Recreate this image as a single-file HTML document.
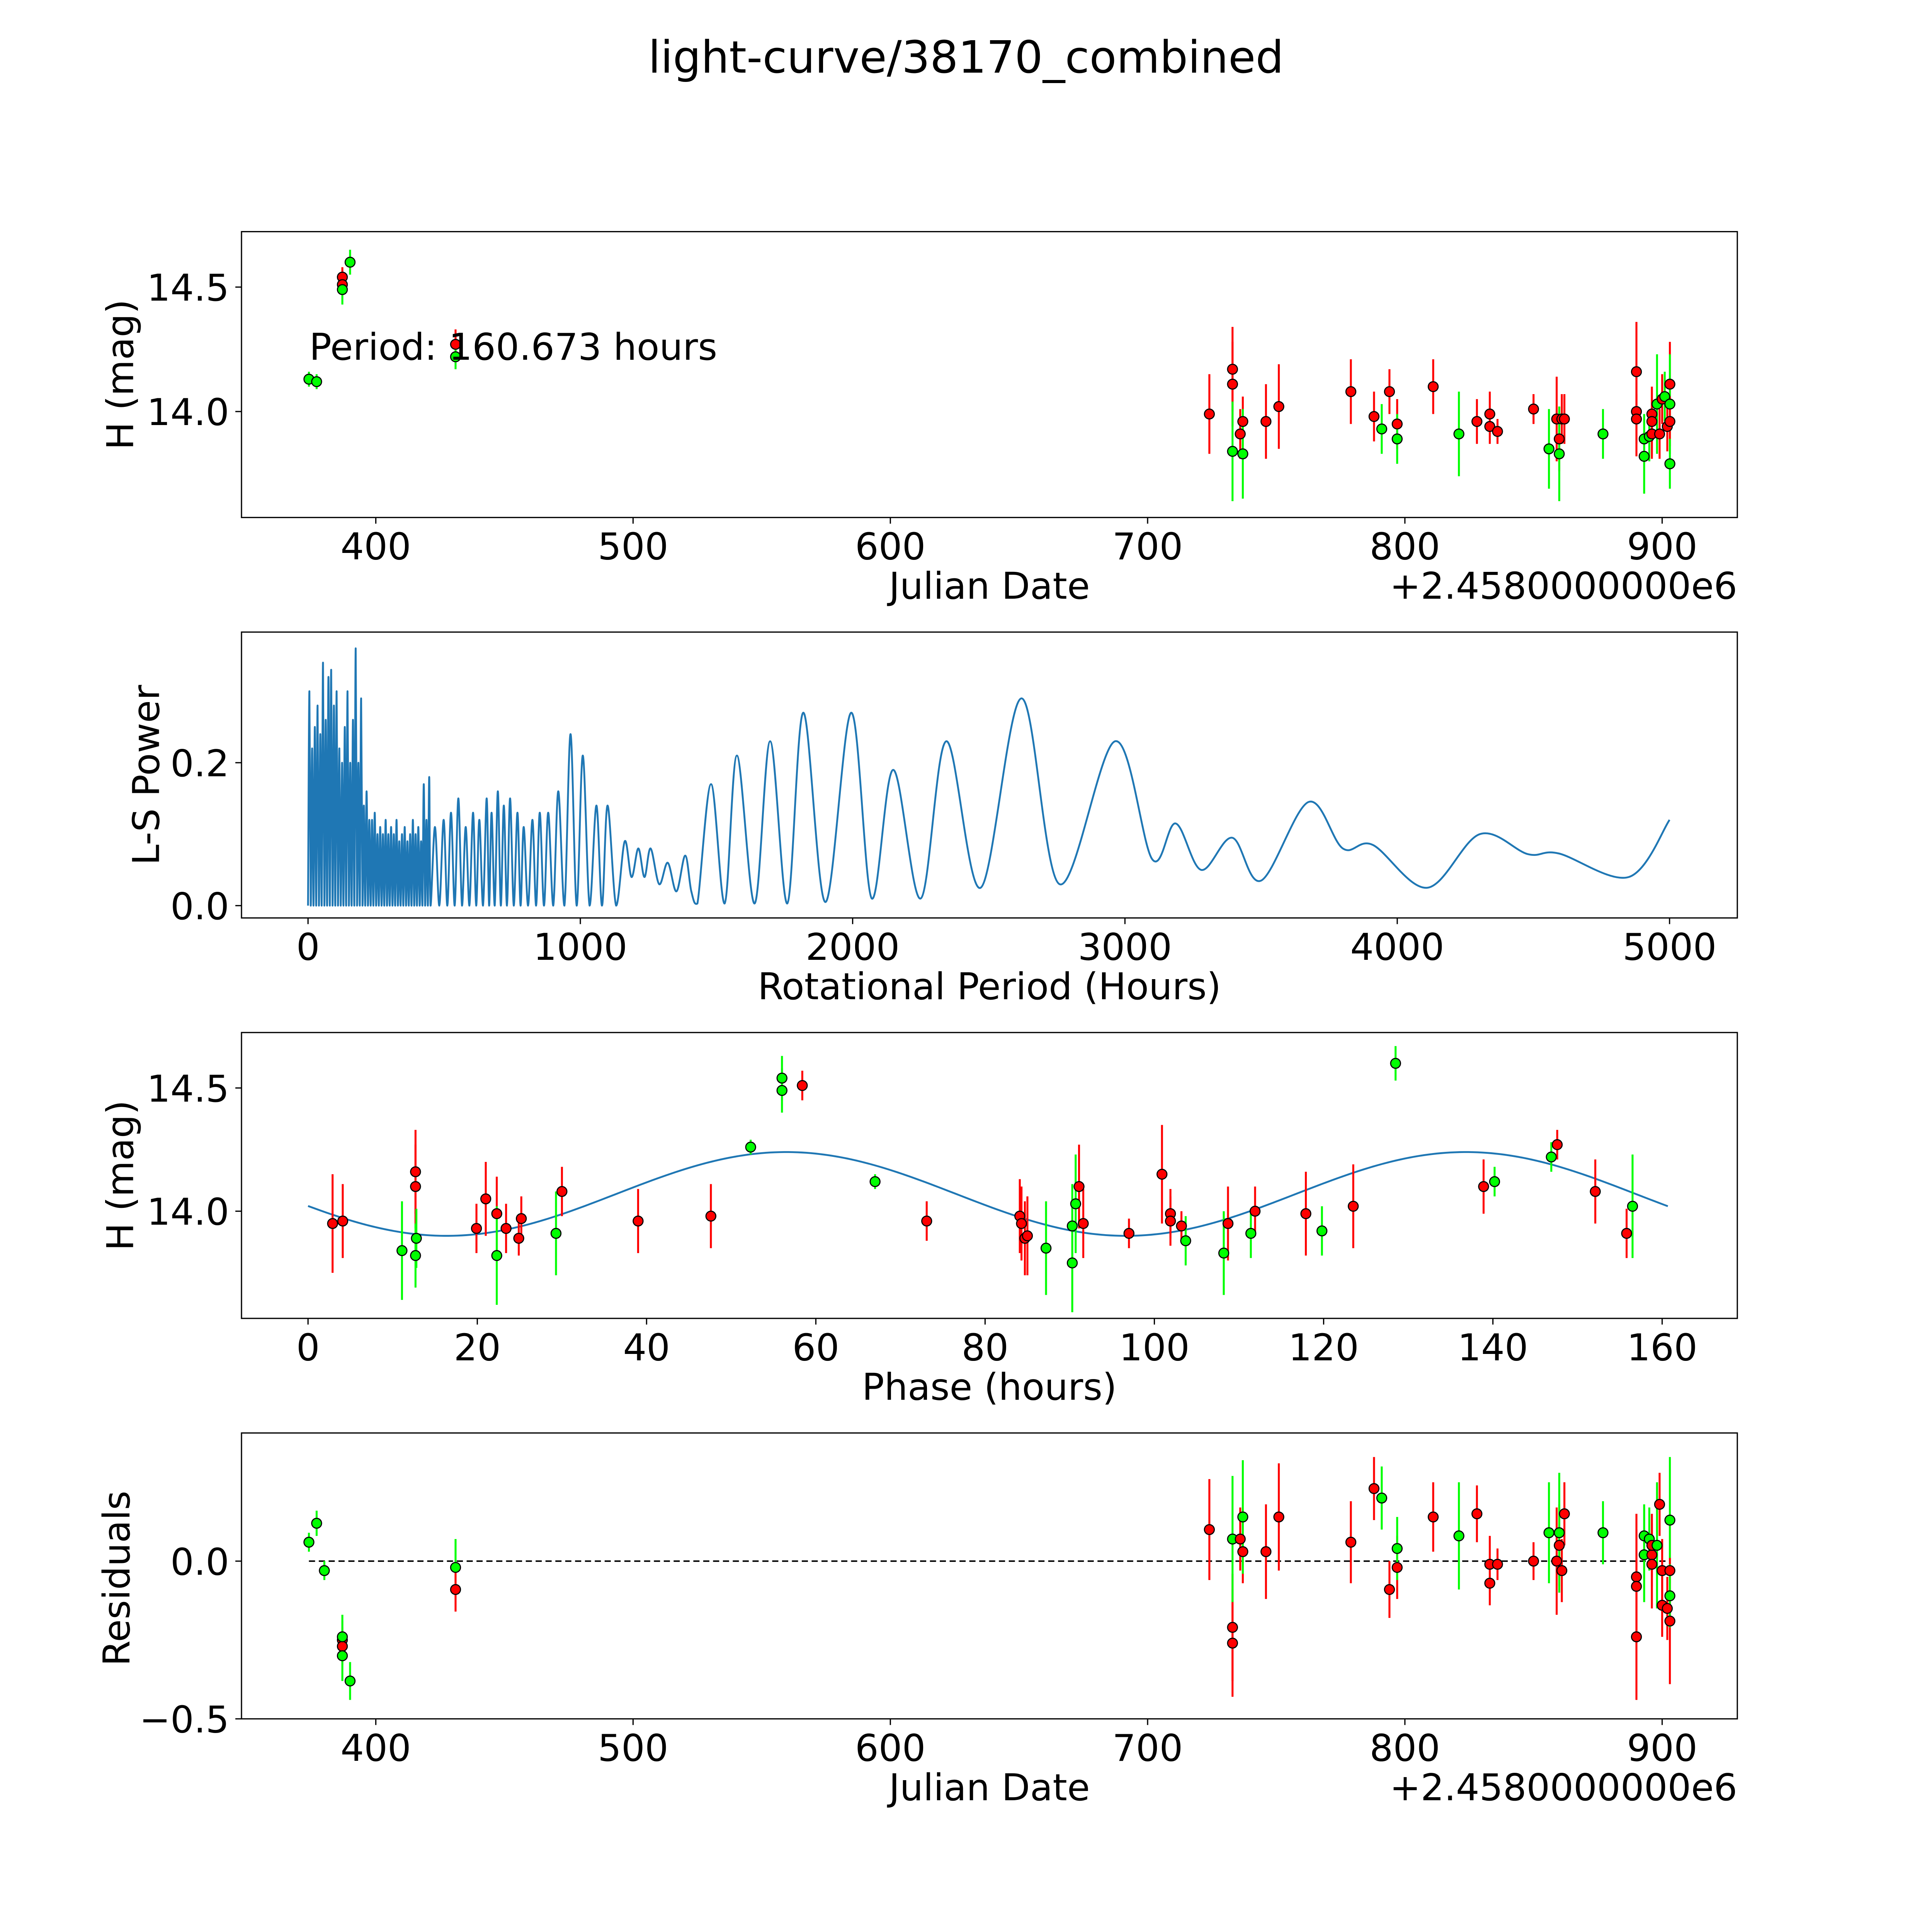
<!DOCTYPE html>
<html><head><meta charset="utf-8"><title>light-curve/38170_combined</title>
<style>
html,body{margin:0;padding:0;background:#fff;overflow:hidden;width:100vw;height:100vh;}
svg{display:block;width:100vw;height:100vh;font-family:"DejaVu Sans","Liberation Sans",sans-serif;}
</style></head>
<body>
<svg id="fig" viewBox="0 0 1568 1568" preserveAspectRatio="none" xmlns="http://www.w3.org/2000/svg">
<rect width="1568" height="1568" fill="#fff"/>
<text x="784" y="59" font-size="36" text-anchor="middle">light-curve/38170_combined</text>
<g id="root"></g>
</svg>
<script>
// ---------- Panel 1 data: raw light curve ----------
const lcJD = [374,377,387,387,387,390,431,431,724,733,733,733,736,737,737,746,751,779,788,791,794,797,797,811,821,828,833,833,836,850,856,859,860,860,861,862,877,890,890,890,893,893,895,896,896,896,898,899,900,901,902,903,903,903,903];
const lcMag = [14.13,14.12,14.54,14.51,14.49,14.60,14.27,14.22,13.99,14.17,14.11,13.84,13.91,13.96,13.83,13.96,14.02,14.08,13.98,13.93,14.08,13.95,13.89,14.10,13.91,13.96,13.99,13.94,13.92,14.01,13.85,13.97,13.89,13.83,13.97,13.97,13.91,14.16,14.00,13.97,13.89,13.82,13.90,13.99,13.96,13.91,14.03,13.91,14.05,14.06,13.94,14.11,14.03,13.96,13.79];
const lcErr = [0.03,0.03,0.04,0.04,0.06,0.05,0.06,0.05,0.16,0.17,0.17,0.2,0.1,0.1,0.18,0.15,0.17,0.13,0.1,0.1,0.09,0.1,0.1,0.11,0.17,0.09,0.09,0.07,0.05,0.06,0.16,0.17,0.13,0.19,0.1,0.1,0.1,0.2,0.18,0.1,0.1,0.15,0.1,0.1,0.14,0.1,0.2,0.1,0.1,0.1,0.1,0.17,0.2,0.1,0.1];
const lcCol = ["g","g","r","r","g","g","r","g","r","r","r","g","r","r","g","r","r","r","r","g","r","r","g","r","g","r","r","r","r","r","g","r","r","g","r","r","g","r","r","r","g","g","g","r","r","r","g","r","r","g","r","r","g","r","g"];

// ---------- Panel 2 data: periodogram ----------
const densePeriods = [5,15,25,35,45,55,65,75,85,95,105,115,125,135,145,155,165,175,185,195,205,215,225,235,245,255,265,275,285,295,305,315,325,335,345,355,365,375,385,395,405,415,425,435,445];
const densePowers = [0.30,0.22,0.25,0.28,0.24,0.34,0.26,0.32,0.33,0.28,0.30,0.22,0.20,0.25,0.30,0.20,0.26,0.36,0.20,0.29,0.14,0.16,0.12,0.12,0.13,0.10,0.11,0.10,0.12,0.10,0.11,0.10,0.12,0.09,0.10,0.11,0.09,0.10,0.12,0.10,0.11,0.09,0.17,0.12,0.18];
const midPeriods = [466,498,525,552,579,606,629,656,674,697,719,742,769,792,824,851,882,919,964,1009,1059,1100,1163,1213,1258,1321,1385];
const midPowers = [0.11,0.12,0.13,0.15,0.11,0.13,0.12,0.15,0.13,0.16,0.14,0.15,0.13,0.11,0.12,0.13,0.13,0.16,0.24,0.21,0.14,0.14,0.09,0.08,0.08,0.06,0.07];
const midTroughs = [0,0,0,0,0,0,0,0,0,0,0,0,0,0,0,0,0,0,0,0,0,0,0.04,0.04,0.03,0.02,0.02];
const tailPeriods = [1430,1480,1530,1575,1640,1697,1760,1819,1900,1995,2070,2149,2250,2344,2470,2620,2760,2964,3100,3186,3280,3394,3500,3674,3800,3910,4110,4303,4480,4593,4850,5000];
const tailPowers = [0.003,0.17,0.003,0.21,0.003,0.23,0.003,0.27,0.005,0.27,0.01,0.19,0.01,0.23,0.025,0.29,0.03,0.23,0.065,0.115,0.05,0.095,0.035,0.145,0.08,0.085,0.025,0.10,0.072,0.073,0.04,0.12];

// ---------- Panel 3 data: phased curve ----------
const phPhase = [2.9,4.1,11.1,12.7,12.7,12.7,12.8,19.9,21.0,22.3,22.3,23.4,24.9,25.2,29.3,30.0,39.0,47.6,52.3,56.0,56.0,58.4,67.0,73.1,84.1,84.3,84.7,85.0,87.2,90.3,90.3,90.7,91.1,91.6,97.0,100.9,101.9,101.9,103.2,103.7,108.2,108.7,111.4,111.9,117.9,119.8,123.5,128.5,138.9,140.2,146.9,147.6,152.1,155.8,156.5];
const phMag = [13.95,13.96,13.84,14.16,14.10,13.82,13.89,13.93,14.05,13.99,13.82,13.93,13.89,13.97,13.91,14.08,13.96,13.98,14.26,14.54,14.49,14.51,14.12,13.96,13.98,13.95,13.89,13.90,13.85,13.79,13.94,14.03,14.10,13.95,13.91,14.15,13.99,13.96,13.94,13.88,13.83,13.95,13.91,14.00,13.99,13.92,14.02,14.60,14.10,14.12,14.22,14.27,14.08,13.91,14.02];
const phErr = [0.2,0.15,0.2,0.17,0.17,0.13,0.12,0.1,0.15,0.15,0.2,0.1,0.07,0.09,0.17,0.1,0.13,0.13,0.03,0.09,0.09,0.06,0.03,0.08,0.15,0.15,0.15,0.16,0.19,0.2,0.17,0.2,0.17,0.14,0.06,0.2,0.1,0.1,0.06,0.1,0.17,0.15,0.1,0.1,0.17,0.1,0.17,0.07,0.11,0.06,0.06,0.06,0.13,0.1,0.21];
const phCol = ["r","r","g","r","r","g","g","r","r","r","g","r","r","r","g","r","r","r","g","g","g","r","g","r","r","r","r","r","g","g","g","g","r","r","r","r","r","r","r","g","g","r","g","r","r","g","r","g","r","g","g","r","r","r","g"];
const fitMean = 14.07, fitAmp = 0.17, fitPeak = 56.5, fitCycle = 80.3, fitEnd = 160.673;

// ---------- Panel 4 data: residuals ----------
const resJD = [374,377,380,387,387,387,387,390,431,431,724,733,733,733,736,737,737,746,751,779,788,791,794,797,797,811,821,828,833,833,836,850,856,859,860,860,861,862,877,890,890,890,893,893,895,896,896,896,898,899,900,900,902,903,903,903,903];
const resVal = [0.06,0.12,-0.03,-0.25,-0.27,-0.30,-0.24,-0.38,-0.02,-0.09,0.10,-0.21,-0.26,0.07,0.07,0.03,0.14,0.03,0.14,0.06,0.23,0.20,-0.09,-0.02,0.04,0.14,0.08,0.15,-0.01,-0.07,-0.01,0.00,0.09,0.00,0.05,0.09,-0.03,0.15,0.09,-0.05,-0.08,-0.24,0.08,0.02,0.07,0.02,-0.01,0.05,0.05,0.18,-0.03,-0.14,-0.15,-0.03,0.13,-0.19,-0.11];
const resErr = [0.03,0.04,0.03,0.06,0.06,0.08,0.07,0.06,0.09,0.07,0.16,0.17,0.17,0.2,0.1,0.1,0.18,0.15,0.17,0.13,0.1,0.1,0.09,0.1,0.1,0.11,0.17,0.09,0.09,0.07,0.05,0.06,0.16,0.17,0.13,0.19,0.1,0.1,0.1,0.2,0.18,0.2,0.1,0.15,0.1,0.1,0.14,0.1,0.2,0.1,0.1,0.1,0.1,0.17,0.2,0.2,0.1];
const resCol = ["g","g","g","r","r","g","g","g","g","r","r","r","r","g","r","r","g","r","r","r","r","g","r","r","g","r","g","r","r","r","r","r","g","r","r","g","r","r","g","r","r","r","g","g","g","r","r","r","g","r","r","r","r","r","g","r","g"];

const jdTicks = [400,500,600,700,800,900];
const perTicks = [0,1000,2000,3000,4000,5000];
const phTicks = [0,20,40,60,80,100,120,140,160];

const NS = "http://www.w3.org/2000/svg";
const root = document.getElementById("root");
function mk(tag, attrs, parent){
  const e = document.createElementNS(NS, tag);
  for (const k in attrs) e.setAttribute(k, attrs[k]);
  (parent||root).appendChild(e);
  return e;
}
function lin(d0,d1,r0,r1){ return v => r0 + (v-d0)*(r1-r0)/(d1-d0); }
const COL = {r:"#ff0000", g:"#00ff00"};
const TICKFS = 30, LABFS = 30;

function axesBox(name, x0,y0,x1,y1){
  const g = mk("g",{});
  
  
  const r = mk("rect",{x:x0,y:y0,width:x1-x0,height:y1-y0,fill:"none",stroke:"#000","stroke-width":1},g);
  
  
  return g;
}
function xTicks(g, ticks, sx, yb, fmt, name){
  ticks.forEach(t=>{
    const x = sx(t);
    const l = mk("line",{x1:x,x2:x,y1:yb,y2:yb+5,stroke:"#000","stroke-width":1},g);
    
    
    const tx = mk("text",{x:x,y:yb+34,"font-size":TICKFS,"text-anchor":"middle"},g);
    tx.textContent = fmt(t);
    
    
  });
}
function yTicks(g, ticks, sy, xl, fmt, name){
  ticks.forEach(t=>{
    const y = sy(t);
    const l = mk("line",{x1:xl-5,x2:xl,y1:y,y2:y,stroke:"#000","stroke-width":1},g);
    
    
    const tx = mk("text",{x:xl-10,y:y+11,"font-size":TICKFS,"text-anchor":"end"},g);
    tx.textContent = fmt(t);
    
    
  });
}
function label(g, txt, x, y, rot, name, anchor){
  const t = mk("text",{x:x,y:y,"font-size":LABFS,"text-anchor":anchor||"middle"},g);
  if (rot) t.setAttribute("transform","rotate(-90 "+x+" "+y+")");
  t.textContent = txt;
  
  
  return t;
}
function points(g, xs, ys, es, cols, sx, sy, name){
  xs.forEach((xv,i)=>{
    const x = sx(xv);
    const eb = mk("line",{x1:x,x2:x,y1:sy(ys[i]-es[i]),y2:sy(ys[i]+es[i]),stroke:COL[cols[i]],"stroke-width":1.6},g);
    
    
  });
  xs.forEach((xv,i)=>{
    const c = mk("circle",{cx:sx(xv),cy:sy(ys[i]),r:4,fill:COL[cols[i]],stroke:"#000","stroke-width":0.9},g);
    
    
  });
}
const f1 = v => v.toFixed(1);

// ---- Panel 1 ----
{
  const sx = lin(400,900,305,1349), sy = lin(14.0,14.5,334,233);
  const g = axesBox("light-curve-axes",196,188,1410,420);
  points(g, lcJD, lcMag, lcErr, lcCol, sx, sy, "observation");
  xTicks(g, jdTicks, sx, 420, String, "x-axis");
  yTicks(g, [14.0,14.5], sy, 196, f1, "y-axis");
  label(g, "Julian Date", 803, 486, false, "x-axis-title");
  label(g, "H (mag)", 108, 304, true, "y-axis-title");
  label(g, "+2.4580000000e6", 1410, 486, false, "x-axis-offset", "end");
  label(g, "Period: 160.673 hours", 251, 292, false, "period-annotation", "start");
}

// ---- Panel 2 ----
{
  const sx = lin(0,5000,250,1355), sy = lin(0,0.2,735,619);
  const g = axesBox("periodogram-axes",196,513,1410,745);
  const P = [], V = [];
  P.push(0); V.push(0);
  densePeriods.forEach((p,i)=>{ P.push(p); V.push(densePowers[i]); P.push(p+5); V.push(0); });
  midPeriods.forEach((p,i)=>{
    P.push(p); V.push(midPowers[i]);
    const nx = i+1<midPeriods.length ? midPeriods[i+1] : tailPeriods[0];
    P.push((p+nx)/2); V.push(midTroughs[i]);
  });
  tailPeriods.forEach((p,i)=>{ P.push(p); V.push(tailPowers[i]); });
  const pts = P.map((p,i)=>[sx(p), sy(V[i])]);
  let d = "M"+pts[0][0].toFixed(2)+","+pts[0][1].toFixed(2);
  const base = sy(0);
  for (let i=0;i<pts.length-1;i++){
    const p0=pts[Math.max(0,i-1)], p1=pts[i], p2=pts[i+1], p3=pts[Math.min(pts.length-1,i+2)];
    const c1=[p1[0]+(p2[0]-p0[0])/6, Math.min(base,p1[1]+(p2[1]-p0[1])/6)];
    const c2=[p2[0]-(p3[0]-p1[0])/6, Math.min(base,p2[1]-(p3[1]-p1[1])/6)];
    d += " C"+c1[0].toFixed(2)+","+c1[1].toFixed(2)+" "+c2[0].toFixed(2)+","+c2[1].toFixed(2)+" "+p2[0].toFixed(2)+","+p2[1].toFixed(2);
  }
  const path = mk("path",{d:d,fill:"none",stroke:"#1f77b4","stroke-width":1.5,"stroke-linejoin":"round"},g);
  
  
  xTicks(g, perTicks, sx, 745, String, "x-axis");
  yTicks(g, [0.0,0.2], sy, 196, f1, "y-axis");
  label(g, "Rotational Period (Hours)", 803, 811, false, "x-axis-title");
  label(g, "L-S Power", 129, 629, true, "y-axis-title");
}

// ---- Panel 3 ----
{
  const sx = lin(0,160,250,1349), sy = lin(14.0,14.5,983,883);
  const g = axesBox("phase-axes",196,838,1410,1070);
  let d = "";
  for (let k=0;k<=300;k++){
    const p = fitEnd*k/300;
    const m = fitMean + fitAmp*Math.cos(2*Math.PI*(p-fitPeak)/fitCycle);
    d += (k?" L":"M")+sx(p).toFixed(2)+","+sy(m).toFixed(2);
  }
  const fit = mk("path",{d:d,fill:"none",stroke:"#1f77b4","stroke-width":1.5},g);
  
  
  points(g, phPhase, phMag, phErr, phCol, sx, sy, "phased-observation");
  xTicks(g, phTicks, sx, 1070, String, "x-axis");
  yTicks(g, [14.0,14.5], sy, 196, f1, "y-axis");
  label(g, "Phase (hours)", 803, 1136, false, "x-axis-title");
  label(g, "H (mag)", 108, 954, true, "y-axis-title");
}

// ---- Panel 4 ----
{
  const sx = lin(400,900,305,1349), sy = lin(0,-0.5,1267,1395);
  const g = axesBox("residuals-axes",196,1163,1410,1395);
  const zl = mk("line",{x1:sx(374),x2:sx(903),y1:sy(0),y2:sy(0),stroke:"#000","stroke-width":1.2,"stroke-dasharray":"5,3"},g);
  
  
  points(g, resJD, resVal, resErr, resCol, sx, sy, "residual");
  xTicks(g, jdTicks, sx, 1395, String, "x-axis");
  yTicks(g, [0.0,-0.5], sy, 196, v => (v<0?"\u2212":"")+Math.abs(v).toFixed(1), "y-axis");
  label(g, "Julian Date", 803, 1461, false, "x-axis-title");
  label(g, "Residuals", 105, 1281, true, "y-axis-title");
  label(g, "+2.4580000000e6", 1410, 1461, false, "x-axis-offset", "end");
}
</script>
</body></html>
